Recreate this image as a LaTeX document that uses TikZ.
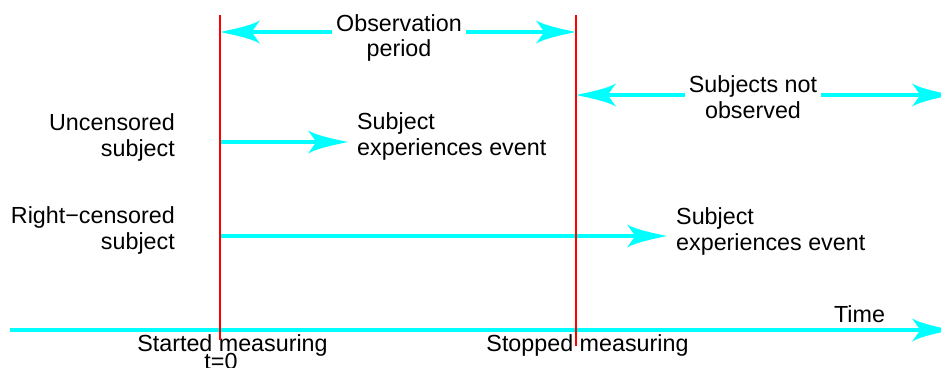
\documentclass[tikz,border=0pt]{standalone}
\usepackage{fontspec}
\setmainfont{Liberation Sans}
\definecolor{aqua}{RGB}{0,255,255}
\definecolor{pured}{RGB}{255,0,0}
\pgfdeclarearrow{
  name=Curvy,
  setup code={
    \pgfarrowssettipend{0pt}
    \pgfarrowssetlineend{-20pt}
    \pgfarrowssetvisualbackend{-40pt}
    \pgfarrowssetbackend{-40pt}
  },
  drawing code={
    \pgfpathmoveto{\pgfpoint{0pt}{0pt}}
    \pgfpathcurveto{\pgfpoint{-14pt}{3pt}}{\pgfpoint{-30pt}{6pt}}{\pgfpoint{-40pt}{11.5pt}}
    \pgfpathcurveto{\pgfpoint{-35pt}{5pt}}{\pgfpoint{-33pt}{1pt}}{\pgfpoint{-31pt}{0pt}}
    \pgfpathcurveto{\pgfpoint{-33pt}{-1pt}}{\pgfpoint{-35pt}{-5pt}}{\pgfpoint{-40pt}{-11.5pt}}
    \pgfpathcurveto{\pgfpoint{-30pt}{-6pt}}{\pgfpoint{-14pt}{-3pt}}{\pgfpoint{0pt}{0pt}}
    \pgfpathclose
    \pgfusepathqfill
  }
}
\begin{document}
\begin{tikzpicture}[x=1pt,y=-1pt,
  lbl/.style={inner sep=4pt,font=\fontsize{23.3}{25.5}\selectfont},
  cyarrow/.style={draw=aqua,line width=4.2pt,-Curvy,color=aqua},
  redline/.style={draw=pured,line width=1.5pt}]
\useasboundingbox (0,0) rectangle (941,367);
% coordinates
\coordinate (Ltop) at (220,15);
\coordinate (Lbot) at (220,340);
\coordinate (Rtop) at (576,15);
\coordinate (Rbot) at (576,346);
\coordinate (oL) at (220,32);
\coordinate (oR) at (576,32);
\coordinate (nL) at (576,95);
\coordinate (nR) at (952,95);
\coordinate (u0) at (220,142);
\coordinate (r0) at (220,236);
\coordinate (ts) at (10,330);
\coordinate (te) at (952,330);
% labels
\node[lbl,align=center] (obs) at (399,38) {Observation\\period};
\node[lbl,align=center] (notobs) at (753,97) {Subjects not\\observed};
\node[lbl,align=right,anchor=east] (unc) at (179,137.7) {Uncensored\\subject};
\node[lbl,align=left,anchor=west] (ev1) at (353,136.5) {Subject\\experiences event};
\node[lbl,align=right,anchor=east] (rc) at (179,230.5) {Right−censored\\subject};
\node[lbl,align=left,anchor=west] (ev2) at (672,231.5) {Subject\\experiences event};
\node[lbl,anchor=base] (started) at (232.5,351) {Started measuring};
\node[lbl,anchor=base] (tzero) at (221,369) {t=0};
\node[lbl,anchor=base] (stopped) at (587.5,351) {Stopped measuring};
\node[lbl,anchor=base] (time) at (859.5,322.7) {Time};
% cyan arrows
\draw[cyarrow] (obs.west |- oL) -- (oL);
\draw[cyarrow] (obs.east |- oR) -- (oR);
\draw[cyarrow] (notobs.west |- nL) -- (nL);
\draw[cyarrow] (notobs.east |- nR) -- (nR);
\draw[cyarrow,shorten >=5pt] (u0) -- (ev1.west |- u0);
\draw[cyarrow,shorten >=5pt] (r0) -- (ev2.west |- r0);
\draw[cyarrow] (ts) -- (te);
% red lines
\draw[redline] (Ltop) -- (Lbot);
\draw[redline] (Rtop) -- (Rbot);
\end{tikzpicture}
\end{document}
